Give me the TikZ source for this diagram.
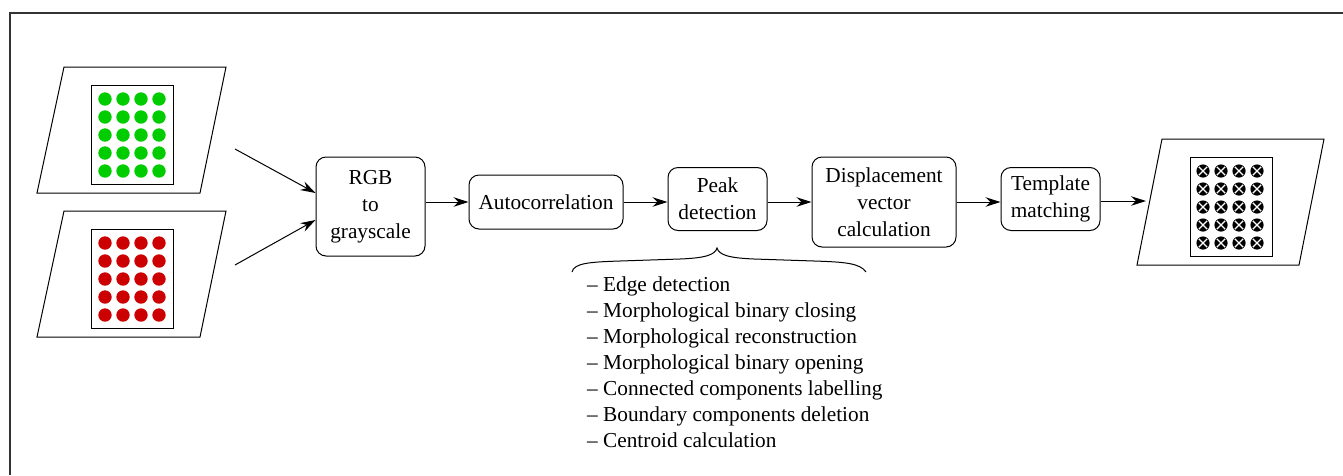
\documentclass[tikz,border=0pt]{standalone}
\usepackage{fontspec}
\setmainfont{Liberation Serif}
\usetikzlibrary{arrows.meta}
\definecolor{dotgreen}{RGB}{0,204,0}
\definecolor{dotred}{RGB}{204,0,0}
\begin{document}
\begin{tikzpicture}[x=1pt,y=-1pt,
  box/.style={draw,line width=1pt,rounded corners=10pt,align=center,inner sep=0pt,font=\fontsize{21.3}{27}\selectfont},
  arr/.style={-{Stealth[length=15pt,width=9.5pt,inset=5pt]},line width=1pt},
  thinline/.style={line width=1pt},
  panel/.style={line width=1pt},
  listtext/.style={anchor=north west,inner sep=0pt,align=left,font=\fontsize{21.3}{26}\selectfont}]
\useasboundingbox (0,0) rectangle (1343,475);
\draw[line width=1.4pt,black!80] (1343,13) -- (10,13) -- (10,475);

% input image (green)
\draw[panel] (37,193) -- (200,193) -- (226,67) -- (64,67) -- cycle;
\draw[panel] (91,85) rectangle (173,184);
\foreach \i in {0,...,3}
  \foreach \j in {0,...,4}
    \fill[dotgreen] (105+18*\i,99+18*\j) circle (6.7pt);

% input image (red)
\draw[panel] (37,337) -- (200,337) -- (226,211) -- (64,211) -- cycle;
\draw[panel] (91,229) rectangle (173,328);
\foreach \i in {0,...,3}
  \foreach \j in {0,...,4}
    \fill[dotred] (105+18*\i,243+18*\j) circle (6.7pt);

% output image
\draw[panel] (1137,265) -- (1299,265) -- (1324,139) -- (1162,139) -- cycle;
\draw[panel] (1190,157) rectangle (1272,256);
\foreach \i in {0,...,3}
  \foreach \j in {0,...,4} {
    \fill[black] (1203+18*\i,171+18*\j) circle (6.6pt);
    \draw[white,line width=1.3pt] (1203+18*\i-4.2,171+18*\j-4.2) -- (1203+18*\i+4.2,171+18*\j+4.2)
      (1203+18*\i-4.2,171+18*\j+4.2) -- (1203+18*\i+4.2,171+18*\j-4.2);
  }

\coordinate (gsrc) at (235,149);
\coordinate (rsrc) at (235,265);
\coordinate (out) at (1146,201);

% processing boxes
\node[box,minimum width=109pt,minimum height=99pt] (rgb) at (370.5,206.5) {RGB\\to\\grayscale};
\node[box,minimum width=154pt,minimum height=54pt] (ac) at (546,202) {Autocorrelation};
\node[box,minimum width=99pt,minimum height=63pt] (pk) at (717.5,199) {Peak\\detection};
\node[box,minimum width=144pt,minimum height=90pt] (dv) at (884,202) {Displacement\\vector\\calculation};
\node[box,minimum width=99pt,minimum height=63pt] (tm) at (1050.5,199) {Template\\matching};

% connectors
\draw[arr] (gsrc) -- ([yshift=13.5pt]rgb.west);
\draw[arr] (rsrc) -- ([yshift=-13.5pt]rgb.west);
\draw[arr] (rgb.east |- ac.west) -- (ac.west);
\draw[arr] (ac.east) -- (pk.west |- ac.east);
\draw[arr] (pk.east |- dv.west) -- (dv.west);
\draw[arr] (dv.east) -- (tm.west |- dv.east);
\draw[arr] (tm.east |- out) -- (out);

% brace and list
\draw[thinline] (572,272) .. controls (574,263) and (590,262) .. (620,261)
  -- (680,259) .. controls (705,258) and (715,255) .. (717,248)
  .. controls (719,255) and (729,258) .. (754,259)
  -- (814,261) .. controls (844,262) and (860,263) .. (866,272);

\node[listtext] (lst) at (587,277) {\textendash{} Edge detection\\
\textendash{} Morphological binary closing\\
\textendash{} Morphological reconstruction\\
\textendash{} Morphological binary opening\\
\textendash{} Connected components labelling\\
\textendash{} Boundary components deletion\\
\textendash{} Centroid calculation};
\end{tikzpicture}
\end{document}
